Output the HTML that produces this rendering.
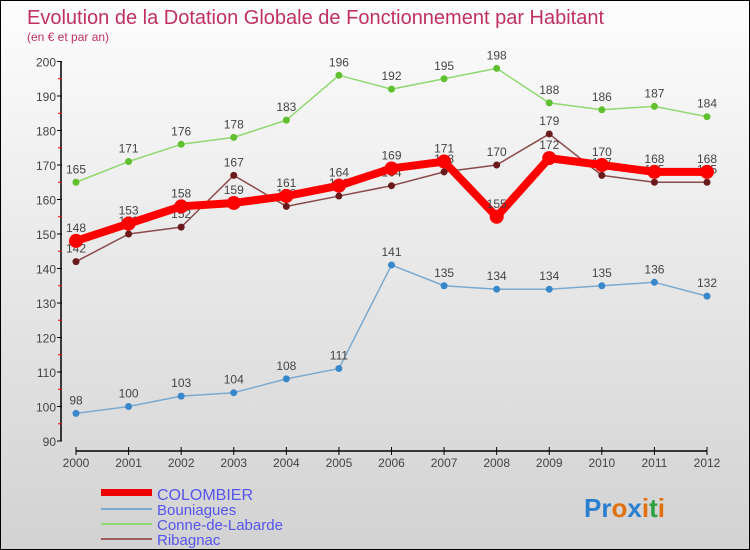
<!DOCTYPE html>
<html><head><meta charset="utf-8"><style>
body{margin:0}
#wrap{width:750px;height:550px;position:relative;box-sizing:border-box;border:1px solid #000;background:linear-gradient(#fdfdfd,#d2d2d2);font-family:"Liberation Sans",sans-serif;overflow:hidden}
</style></head><body>
<div id="wrap">
<svg id="svg" width="750" height="550" style="position:absolute;left:0;top:0">
<text x="26" y="23" font-size="20" fill="#c03060">Evolution de la Dotation Globale de Fonctionnement par Habitant</text>
<text x="26" y="40" font-size="12" fill="#c03060">(en € et par an)</text>
<g id="axes"></g><g id="series"></g>
<g>
<rect x="100" y="488" width="51" height="7" fill="#e00"/>
<text x="156" y="499" font-size="16" fill="#5555ee">COLOMBIER</text>
<line x1="100" y1="508" x2="151" y2="508" stroke="#7aaad0" stroke-width="2"/>
<text x="156" y="514" font-size="15" fill="#5555ee">Bouniagues</text>
<line x1="100" y1="523" x2="151" y2="523" stroke="#90d870" stroke-width="2"/>
<text x="156" y="529" font-size="15" fill="#5555ee">Conne-de-Labarde</text>
<line x1="100" y1="538" x2="151" y2="538" stroke="#9a6060" stroke-width="2"/>
<text x="156" y="544" font-size="15" fill="#5555ee">Ribagnac</text>
</g>
<text x="583" y="516" font-size="26" font-weight="bold"><tspan fill="#2a7fd0">Pr</tspan><tspan fill="#e07010">o</tspan><tspan fill="#2a7fd0">x</tspan><tspan fill="#e07010">i</tspan><tspan fill="#30a040">t</tspan><tspan fill="#e07010">i</tspan></text>
</svg>
</div>
<script>
const years=["2000","2001","2002","2003","2004","2005","2006","2007","2008","2009","2010","2011","2012"];
const yTicks=[90,100,110,120,130,140,150,160,170,180,190,200];
const colombier=[148,153,158,159,161,164,169,171,155,172,170,168,168];
const bouniagues=[98,100,103,104,108,111,141,135,134,134,135,136,132];
const conne=[165,171,176,178,183,196,192,195,198,188,186,187,184];
const ribagnac=[142,150,152,167,158,161,164,168,170,179,167,165,165];
const NS="http://www.w3.org/2000/svg";
const xs=i=>75+i*(631/12);
const ys=v=>440-(v-90)*(379.5/110);
function mk(tag,attrs,parent){const e=document.createElementNS(NS,tag);for(const k in attrs)e.setAttribute(k,attrs[k]);parent.appendChild(e);return e;}
const ax=document.getElementById('axes'),sr=document.getElementById('series');
let l=mk('line',{x1:60,y1:ys(200),x2:60,y2:ys(90),stroke:'#000','stroke-width':1.5},ax);


yTicks.forEach(v=>{
 const t=mk('line',{x1:56,y1:ys(v),x2:61,y2:ys(v),stroke:'#000'},ax);
 
 
 if(v<200){const r=mk('line',{x1:57,y1:ys(v+5),x2:61,y2:ys(v+5),stroke:'#e00'},ax);
 
 }
 const tx=mk('text',{x:55,y:ys(v)+5,'font-size':12,fill:'#444','text-anchor':'end'},ax);
 tx.textContent=v;
 
 
});
l=mk('line',{x1:75,y1:450,x2:706,y2:450,stroke:'#000','stroke-width':1.5},ax);


years.forEach((y,i)=>{
 const t=mk('line',{x1:xs(i),y1:446,x2:xs(i),y2:454,stroke:'#000'},ax);
 
 
 const tx=mk('text',{x:xs(i),y:466,'font-size':12,fill:'#444','text-anchor':'middle'},ax);
 tx.textContent=y;
 
 
});
function series(vals,name,color,w,r,dot){
 const p=mk('polyline',{points:vals.map((v,i)=>xs(i)+','+ys(v)).join(' '),fill:'none',stroke:color,'stroke-width':w,'stroke-linejoin':'round'},sr);
 
 
 vals.forEach((v,i)=>{
  const c=mk('circle',{cx:xs(i),cy:ys(v),r:r,fill:dot},sr);
  
  
  const t=mk('text',{x:xs(i),y:ys(v)-9,'font-size':12,fill:'#444','text-anchor':'middle'},sr);
  t.textContent=v;
  
  
 });
}
series(bouniagues,'bouniagues','#7aaad0',1.5,3.5,'#3a88cc');
series(conne,'conne-de-labarde','#90d870',1.5,3.5,'#60c030');
series(ribagnac,'ribagnac','#8a4a4a',1.5,3.5,'#6a1a1a');
series(colombier,'colombier','#f00',8,7,'#f00');
</script>
</body></html>
